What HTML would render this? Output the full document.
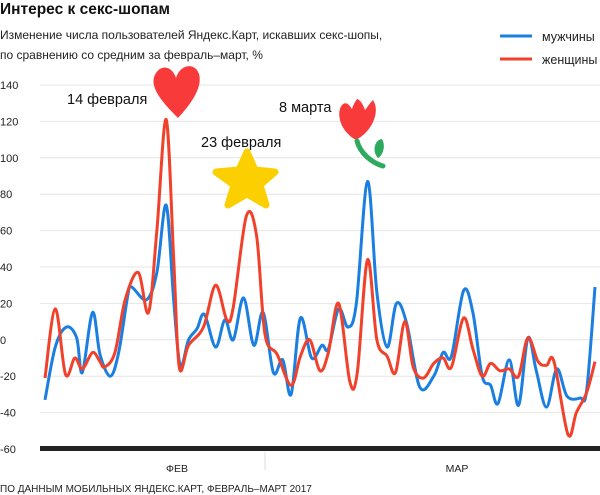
<!DOCTYPE html>
<html><head><meta charset="utf-8"><style>
body{margin:0;width:600px;height:495px;background:#fff;font-family:"Liberation Sans","Noto Sans CJK SC",sans-serif;overflow:hidden}
svg{display:block}
</style></head><body>
<svg id="chart" width="600" height="495">
<text x="0" y="14" font-size="15.5" font-weight="bold" fill="#111">Интерес к секс-шопам</text>
<text x="0" y="39" font-size="12" fill="#222">Изменение числа пользователей Яндекс.Карт, искавших секс-шопы,</text>
<text x="0" y="59" font-size="12" fill="#222">по сравнению со средним за февраль–март, %</text>
<g>
<line x1="500" y1="36" x2="532" y2="36" stroke="#1a7fe0" stroke-width="3"/>
<text x="542" y="41" font-size="12.5" fill="#222">мужчины</text>
<line x1="500" y1="59" x2="532" y2="59" stroke="#f2412b" stroke-width="3"/>
<text x="542" y="64" font-size="12.5" fill="#222">женщины</text>
</g>
<g id="grid"></g>
<g id="ylabels"></g>
<line x1="265" y1="452" x2="265" y2="470" stroke="#ddd"/>
<rect x="40" y="446" width="560" height="5" fill="#222"/>
<text x="177" y="472" font-size="10.5" text-anchor="middle" fill="#222">ФЕВ</text>
<text x="457" y="472" font-size="10.5" text-anchor="middle" fill="#222">МАР</text>
<text x="0" y="492" font-size="10" fill="#222">ПО ДАННЫМ МОБИЛЬНЫХ ЯНДЕКС.КАРТ, ФЕВРАЛЬ–МАРТ 2017</text>
<g id="series"></g>
<path d="M178,118 C160,100 148,85 156,73 C163,63 173,68 176,78 C180,64 195,62 199,74 C203,88 190,105 178,118 Z" fill="#f93a3a"/>
<path d="M247,152 L255,170 L275,172 L260,185 L266,205 L247,194 L228,205 L234,185 L216,172 L239,170 Z" fill="#fcd000" stroke="#fcd000" stroke-width="7" stroke-linejoin="round"/>
<g>
<path d="M343,104 C336,110 338,130 356,140 C374,130 380,110 373,100 C369,104 367,108 365,110 C362,101 358,99 357,99 C355,102 353,105 352,109 C349,104 346,102 343,104 Z" fill="#f93a3a"/>
<path d="M357,141 C360,153 372,163 383,166" stroke="#2eaa5e" stroke-width="5" fill="none" stroke-linecap="round"/>
<path d="M378,158 C372,152 374,140 382,139 C386,146 383,155 378,158 Z" fill="#2eaa5e"/>
</g>
<text x="67" y="104" font-size="14.5" fill="#111">14 февраля</text>
<text x="201" y="147" font-size="14.5" fill="#111">23 февраля</text>
<text x="279" y="112" font-size="14.5" fill="#111">8 марта</text>
</svg>
<script>
const yTicks=[140,120,100,80,60,40,20,0,-20,-40,-60];
const menDays=[0,1.1,2.3,3.4,4,5.1,5.9,7,7.9,8.9,9.3,10.9,12,13,13.8,14.5,15.4,16.3,17.1,18.3,19.3,20.2,21.3,22.4,23.4,24.5,25.5,26.4,27.4,28.6,29.7,30.4,31.5,32.5,33.4,34.6,35.6,36.7,37.7,38.8,40.2,41.7,42.7,43.6,44.9,45.9,46.9,47.8,48.6,49.8,50.8,51.8,52.7,53.8,54.9,56,57.4,58.1,59];
const menValues=[-33,-4,7,1,-18,15,-8,-20,-7,25,29,22,37,74,22,-14,0,6,14,-4,11,0,23,-3,15,-18,-11,-30,12,-10,-3,-5,17,7,20,87,26,-4,20,9,-26,-20,-7,-9,27,15,-20,-25,-35,-11,-36,1,-17,-37,-16,-31,-32,-28,29];
const womenDays=[0,1.1,2.2,3.2,4,5.1,5.9,6.4,7.5,8.6,10,11.1,12,13,13.8,14.4,15.4,17,18.3,19.5,20.2,21.6,22.7,23.6,24.9,26.4,27.4,28.4,29.5,30.4,31.5,32.7,33.5,34.6,35.6,36.7,37.6,38.6,39.5,40.6,41.7,42.7,43.6,44.9,45.9,46.9,47.8,48.8,49.8,50.8,51.8,52.9,53.8,54.6,56.1,57,58.1,59];
const womenValues=[-21,17,-19,-10,-16,-7,-12,-15,-7,22,37,15,60,121,45,-15,-3,7,30,11,18,68,57,3,-8,-25,-9,0,-17,-7,20,-23,-18,44,0,-9,-18,10,-15,-21,-13,-10,-15,12,-5,-20,-13,-17,-16,-20,1,-12,-14,-12,-52,-40,-29,-12];
const NS='http://www.w3.org/2000/svg';
const X0=45,X1=595,DMAX=59,Y140=85,YM60=449;
function xs(d){return X0+(X1-X0)*d/DMAX;}
function ys(v){return Y140+(140-v)*(YM60-Y140)/200;}
const grid=document.getElementById('grid'),yl=document.getElementById('ylabels');
yTicks.forEach(t=>{
  if(t!==-60){const l=document.createElementNS(NS,'line');
  l.setAttribute('x1',40);l.setAttribute('x2',600);l.setAttribute('y1',ys(t));l.setAttribute('y2',ys(t));
  l.setAttribute('stroke','#e6e6e6');l.setAttribute('stroke-width','1');
  
  
  grid.appendChild(l);}
  const tx=document.createElementNS(NS,'text');
  tx.setAttribute('x',0);tx.setAttribute('y',ys(t)+4);tx.setAttribute('font-size','11');tx.setAttribute('fill','#222');
  tx.textContent=t;
  
  
  yl.appendChild(tx);
});
function pathFor(days,vals){
  const p=days.map((d,i)=>[xs(d),ys(vals[i])]);
  let s='M'+p[0][0]+','+p[0][1];
  for(let i=0;i<p.length-1;i++){
    const a=p[Math.max(0,i-1)],b=p[i],c=p[i+1],e=p[Math.min(p.length-1,i+2)];
    const k=1/6;
    s+=' C'+(b[0]+(c[0]-a[0])*k)+','+(b[1]+(c[1]-a[1])*k)+' '+(c[0]-(e[0]-b[0])*k)+','+(c[1]-(e[1]-b[1])*k)+' '+c[0]+','+c[1];
  }
  return s;
}
const sg=document.getElementById('series');
const pm=document.createElementNS(NS,'path');
pm.setAttribute('d',pathFor(menDays,menValues));pm.setAttribute('fill','none');pm.setAttribute('stroke','#1a7fe0');pm.setAttribute('stroke-width','3');


sg.appendChild(pm);
const pw=document.createElementNS(NS,'path');
pw.setAttribute('d',pathFor(womenDays,womenValues));pw.setAttribute('fill','none');pw.setAttribute('stroke','#f2412b');pw.setAttribute('stroke-width','3');


sg.appendChild(pw);
</script>
</body></html>
